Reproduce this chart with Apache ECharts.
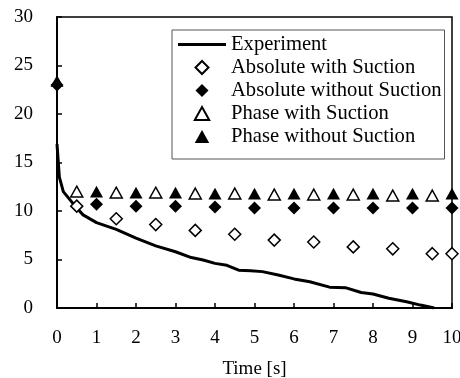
<!DOCTYPE html>
<html>
<head>
<meta charset="utf-8">
<script src="https://cdn.jsdelivr.net/npm/echarts@6/dist/echarts.min.js"></script>
<style>html,body{margin:0;padding:0;background:#fff}#c{width:460px;height:378px}</style>
</head>
<body>
<div id="c"></div>
<script>
const seriesNames = ['Experiment','Absolute with Suction','Absolute without Suction','Phase with Suction','Phase without Suction'];
const xTicks = [0,1,2,3,4,5,6,7,8,9,10];
const yTicks = [0,5,10,15,20,25,30];

const expT = [0,0.06,0.16,0.5,0.66,1,1.5,2,2.5,3,3.4,3.7,4,4.3,4.6,4.9,5.2,5.6,6,6.4,6.9,7.3,7.7,8,8.4,8.85,9.2,9.55];
const expV = [16.9,13.5,12.0,10.3,9.6,8.8,8.1,7.2,6.4,5.8,5.2,4.95,4.6,4.4,3.9,3.85,3.75,3.4,3.0,2.7,2.15,2.1,1.6,1.45,1.0,0.65,0.3,0.0];

const absWithT = [0.5,1.5,2.5,3.5,4.5,5.5,6.5,7.5,8.5,9.5,10];
const absWithV = [10.5,9.2,8.6,8.0,7.6,7.0,6.8,6.3,6.1,5.6,5.6];

const absWithoutT = [0,1,2,3,4,5,6,7,8,9,10];
const absWithoutV = [23.0,10.7,10.5,10.5,10.4,10.3,10.3,10.3,10.3,10.3,10.3];

const phaseWithT = [0.5,1.5,2.5,3.5,4.5,5.5,6.5,7.5,8.5,9.5];
const phaseWithV = [12.0,11.9,11.9,11.8,11.8,11.7,11.7,11.7,11.6,11.6];

const phaseWithoutT = [0,1,2,3,4,5,6,7,8,9,10];
const phaseWithoutV = [23.4,12.0,11.9,11.9,11.8,11.8,11.8,11.8,11.8,11.8,11.8];

const pairs = (t, v) => t.map((x, i) => [x, v[i]]);
const font = 'Liberation Serif';
const DIAMOND = 'path://M5,0L10,5L5,10L0,5Z';
const TRIANGLE = 'path://M5,0L10,9L0,9Z';
const BAR = 'path://M0,0L48,0L48,3L0,3Z';

const chart = echarts.init(document.getElementById('c'), null, {renderer: 'canvas'});
chart.setOption({
  animation: false,
  backgroundColor: '#fff',
  textStyle: {fontFamily: font, color: '#000'},
  grid: {left: 57, right: 8, top: 17, bottom: 70, show: true, borderColor: '#000', borderWidth: 1.5,
         backgroundColor: 'transparent', outerBoundsMode: 'none', containLabel: false},
  legend: {
    orient: 'vertical', left: 172, top: 30,
    backgroundColor: '#fff',
    borderColor: '#555', borderWidth: 1,
    padding: [4, 3, 12, 6],
    itemWidth: 48, itemHeight: 13, itemGap: 2,
    symbolKeepAspect: true,
    textStyle: {fontFamily: font, fontSize: 20.6, color: '#000', lineHeight: 21},
    data: [
      {name: seriesNames[0], icon: BAR},
      {name: seriesNames[1], icon: DIAMOND},
      {name: seriesNames[2], icon: DIAMOND},
      {name: seriesNames[3], icon: TRIANGLE},
      {name: seriesNames[4], icon: TRIANGLE}
    ]
  },
  xAxis: {
    type: 'value', min: 0, max: 10, interval: 1,
    name: 'Time [s]', nameLocation: 'middle', nameGap: 52,
    nameTextStyle: {fontFamily: font, fontSize: 19, color: '#000'},
    axisLine: {lineStyle: {color: '#000', width: 2}},
    axisTick: {inside: true, length: 5, lineStyle: {color: '#000', width: 1.5}},
    axisLabel: {fontFamily: font, fontSize: 19, color: '#000', margin: 21},
    splitLine: {show: false}
  },
  yAxis: {
    type: 'value', min: 0, max: 30, interval: 5,
    axisLine: {show: true, lineStyle: {color: '#000', width: 2}},
    axisTick: {show: true, inside: true, length: 5, lineStyle: {color: '#000', width: 1.5}},
    axisLabel: {fontFamily: font, fontSize: 19, color: '#000', margin: 24},
    splitLine: {show: false}
  },
  series: [
    {name: seriesNames[0], type: 'line', data: pairs(expT, expV), showSymbol: false, symbol: 'none',
     lineStyle: {color: '#000', width: 3}, itemStyle: {color: '#000'}, z: 2},
    {name: seriesNames[1], type: 'scatter', data: pairs(absWithT, absWithV), symbol: DIAMOND, symbolSize: 12, symbolKeepAspect: true, clip: false,
     itemStyle: {color: '#fff', borderColor: '#000', borderWidth: 1.5, opacity: 1}, z: 3},
    {name: seriesNames[2], type: 'scatter', data: pairs(absWithoutT, absWithoutV), symbol: DIAMOND, symbolSize: 13, symbolKeepAspect: true, clip: false,
     itemStyle: {color: '#000', borderColor: '#000', borderWidth: 0, opacity: 1}, z: 3},
    {name: seriesNames[3], type: 'scatter', data: pairs(phaseWithT, phaseWithV), symbol: TRIANGLE, symbolSize: 12, symbolKeepAspect: true, clip: false,
     itemStyle: {color: '#fff', borderColor: '#000', borderWidth: 1.5, opacity: 1}, z: 3},
    {name: seriesNames[4], type: 'scatter', data: pairs(phaseWithoutT, phaseWithoutV), symbol: TRIANGLE, symbolSize: 13, symbolKeepAspect: true, clip: false,
     itemStyle: {color: '#000', borderColor: '#000', borderWidth: 0, opacity: 1}, z: 4}
  ]
});
</script>
</body>
</html>
